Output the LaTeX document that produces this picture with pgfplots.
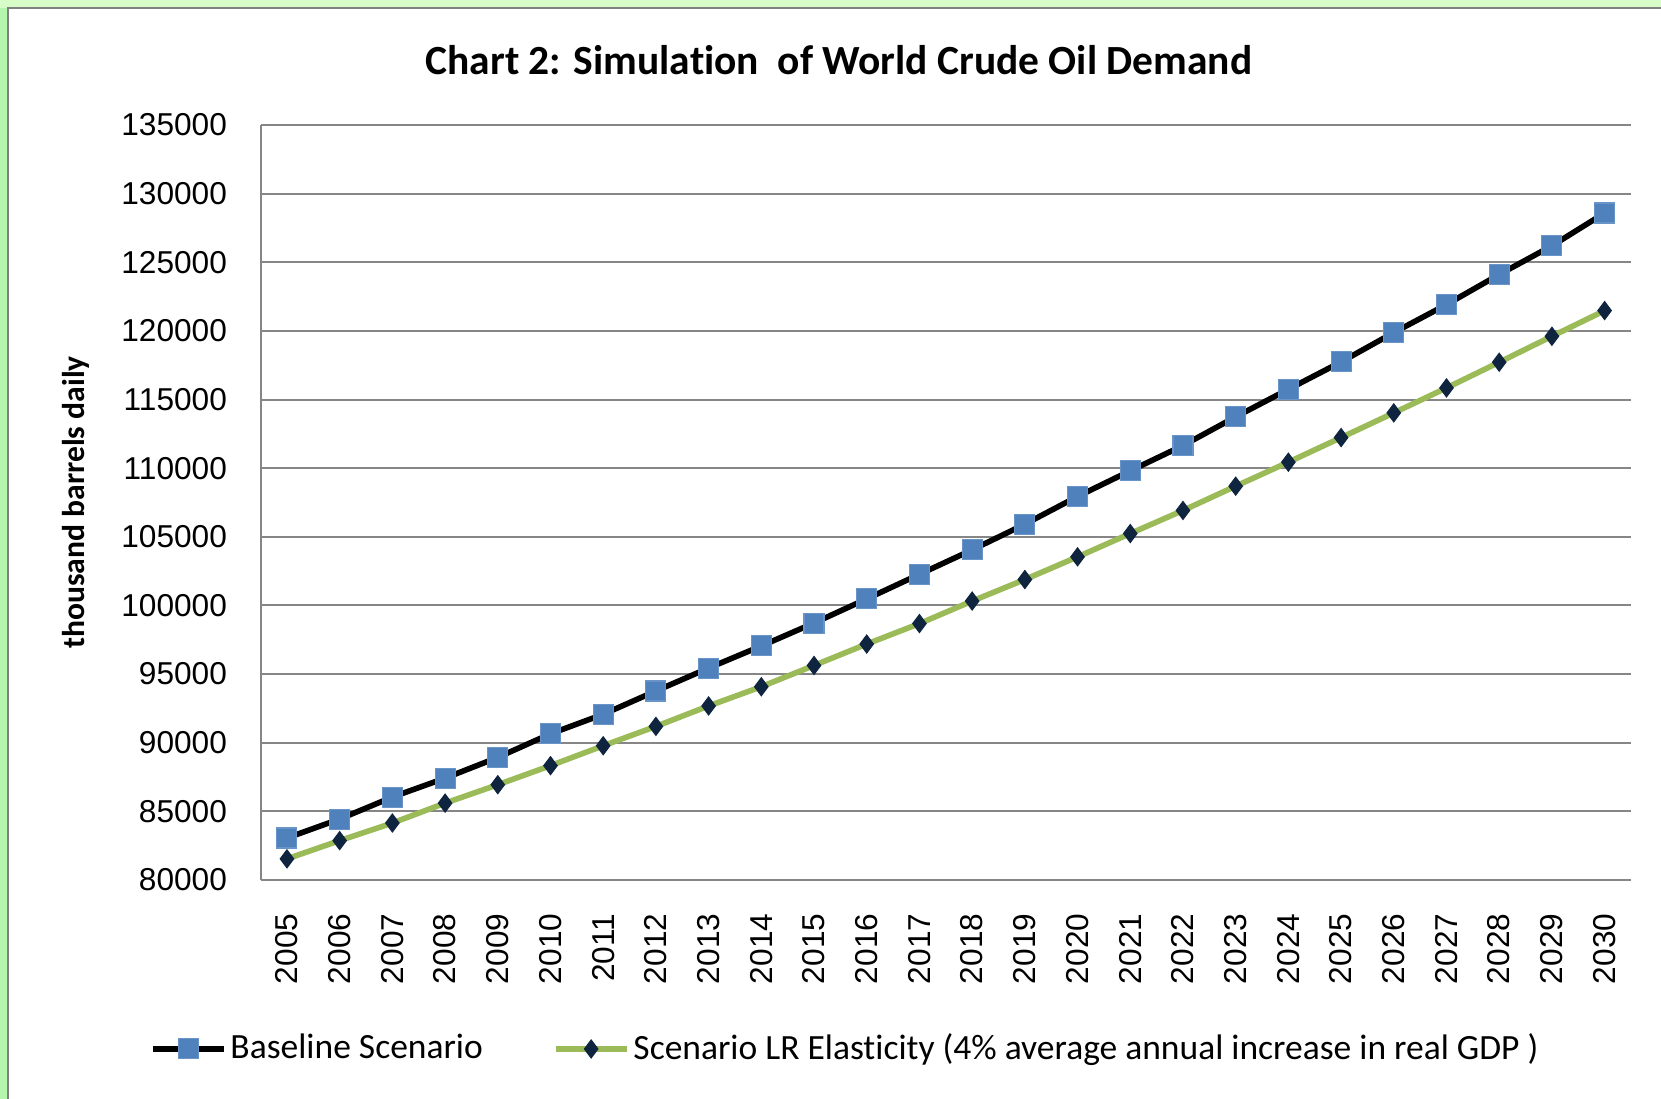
\documentclass[border=0pt]{standalone}
\usepackage{fontspec}
\setmainfont{Carlito}[Ligatures=NoCommon]
\newfontfamily\arialfont{Liberation Sans}
\usepackage{pgfplots}
\pgfplotsset{compat=1.18}

\definecolor{bgtop}{RGB}{216,252,200}
\definecolor{bgleft}{RGB}{180,246,172}
\definecolor{framegray}{RGB}{128,128,128}
\definecolor{gridgray}{RGB}{134,134,134}
\definecolor{baseblue}{RGB}{79,129,189}
\definecolor{lrgreen}{RGB}{155,187,89}
\definecolor{navy}{RGB}{15,36,62}

% thousand barrels daily
\pgfplotstableread{
year  base    lr
2005  83060   81540
2006  84440   82870
2007  86040   84150
2008  87420   85600
2009  88930   86940
2010  90650   88330
2011  92070   89780
2012  93770   91190
2013  95440   92680
2014  97050   94080
2015  98720   95630
2016  100480  97190
2017  102270  98680
2018  104050  100320
2019  105920  101890
2020  107940  103540
2021  109810  105240
2022  111650  106920
2023  113740  108690
2024  115750  110440
2025  117740  112230
2026  119880  114030
2027  121920  115850
2028  124110  117720
2029  126200  119610
2030  128590  121480
}\demand

\begin{document}
\begin{tikzpicture}[x=0.1mm,y=0.1mm]
\path[use as bounding box] (0,0) rectangle (1661,1099);
\fill[bgtop] (0,0) rectangle (1661,1099);
\fill[bgleft] (0,0) rectangle (8,1091);
\fill[white] (8,0) rectangle (1661,1091);
\draw[framegray, line width=0.25mm] (8,-5) -- (8,1091) -- (1670,1091);
\coordinate (plotorigin) at (260.6,219);

\begin{axis}[
  at={(plotorigin)}, anchor=south west,
  scale only axis,
  width=137.04mm, height=75.5mm,
  xmin=2004.5, xmax=2030.5,
  ymin=80000, ymax=135000,
  xtick={2005,...,2030},
  ytick={80000,85000,...,135000},
  scaled y ticks=false,
  scaled x ticks=false,
  tick label style={font=\arialfont\fontsize{9}{10}\selectfont, inner sep=0pt,
    /pgf/number format/fixed, /pgf/number format/precision=0,
    /pgf/number format/1000 sep={}, /pgf/number format/assume math mode=true},
  major tick length=0pt,
  yticklabel style={anchor=east},
  xticklabel style={rotate=90, anchor=east},
  yticklabel shift=3.3mm,
  xticklabel shift=3.3mm,
  axis x line*=bottom,
  axis y line*=left,
  axis line style={gridgray, line width=0.2mm, -},
  ymajorgrids,
  grid style={gridgray, line width=0.2mm},
  title={\bfseries Chart 2: Simulation \ of World Crude Oil Demand},
  title style={font=\fontsize{11.8}{14}\selectfont, at={(axis description cs:0.4221,1.058)}, anchor=center},
  ylabel={\bfseries thousand barrels daily},
  ylabel style={font=\fontsize{9}{11}\selectfont, at={(axis description cs:-0.1345,0.5)}, rotate=0, anchor=center},
  legend columns=2,
  legend style={draw=none, fill=none,
    at={(axis description cs:-0.089,-0.2238)}, anchor=west,
    font=\fontsize{10.1}{12}\selectfont,
    nodes={inner sep=0.4mm},
    /tikz/every even column/.append style={column sep=6.6mm}},
  legend image code/.code={\draw[mark repeat=2, mark phase=2, #1] plot coordinates {(0mm,0mm) (3.55mm,0mm) (7.1mm,0mm)};},
]
\addplot[black, line width=1.6pt, mark=square*, mark size=1mm,
  mark options={fill=baseblue, draw=baseblue!85!white, line width=0.3pt}]
  table[x=year, y=base] {\demand};
\addlegendentry{Baseline Scenario}
\addplot[lrgreen, line width=1.6pt, mark=diamond*, mark size=0.9mm,
  mark options={fill=navy, draw=navy, line width=0.3pt}]
  table[x=year, y=lr] {\demand};
\addlegendentry{Scenario LR Elasticity (4\% average annual increase in real GDP )}
\end{axis}
\end{tikzpicture}
\end{document}
